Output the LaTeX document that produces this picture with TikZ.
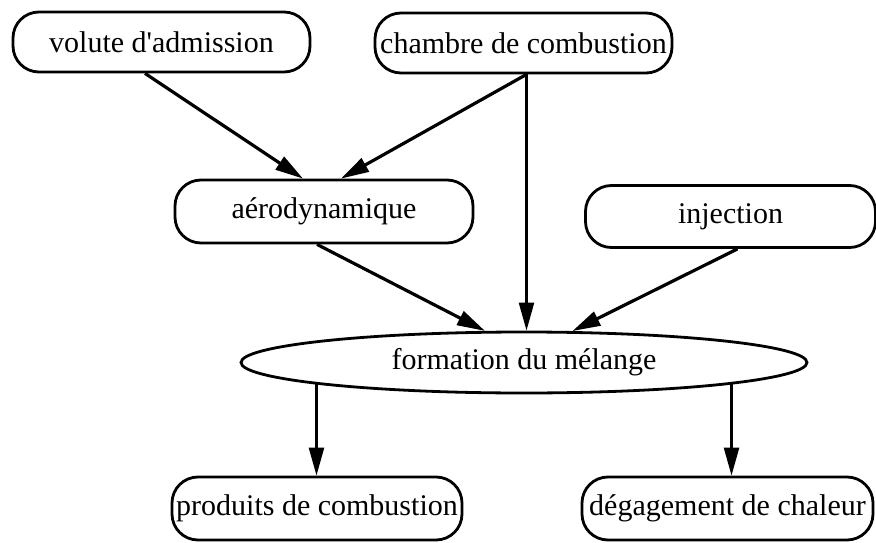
\documentclass[tikz,border=0pt]{standalone}
\usepackage{fontspec}
\setmainfont{Liberation Serif}[Ligatures=TeXOff]
\usetikzlibrary{shapes.geometric,arrows.meta,calc}
\begin{document}
\begin{tikzpicture}[x=1pt,y=1pt,
  box/.style={draw,line width=2.8pt,rounded corners=26pt,inner sep=0pt,
    font=\fontsize{30}{34}\selectfont},
  oval/.style={draw,ellipse,line width=2.8pt,inner sep=0pt,
    font=\fontsize{30}{34}\selectfont},
  arr/.style={line width=3.2pt,-{Triangle[length=28pt,width=15pt]}},
  varr/.style={line width=2.4pt,-{Triangle[length=28pt,width=15pt]}}]
\useasboundingbox (0,0) rectangle (876,-543);
\node[box,minimum width=297pt,minimum height=60pt] (vol) at (161.5,-42) {volute d'admission};
\node[box,minimum width=297pt,minimum height=60pt] (cha) at (523.5,-43) {chambre de combustion};
\node[box,minimum width=298pt,minimum height=63pt] (aer) at (324,-211.5) {aérodynamique};
\node[box,minimum width=290pt,minimum height=62pt] (inj) at (730.5,-216.5) {injection};
\node[oval,minimum width=566pt,minimum height=61pt] (ell) at (524,-362.5) {formation du mélange};
\node[box,minimum width=290pt,minimum height=63pt] (pro) at (317,-508.5) {produits de combustion};
\node[box,minimum width=291pt,minimum height=63pt] (deg) at (727.5,-508.5) {dégagement de chaleur};
\coordinate (chs) at ($(cha.south)+(3,0)$);
\draw[arr] ($(vol.south)+(-16.5,0)$) -- ($(aer.north)+(-21,0)$);
\draw[arr] (chs) -- ($(aer.north)+(17,0)$);
\draw[varr] (chs) -- (chs |- ell.north);
\draw[arr] ($(aer.south)+(-7,0)$) -- (ell.141);
\draw[arr] ($(inj.south)+(7,0)$) -- (ell.33);
\draw[varr] (ell.186) -- (ell.186 |- pro.north);
\draw[varr] (ell.354) -- (ell.354 |- deg.north);
\end{tikzpicture}
\end{document}
